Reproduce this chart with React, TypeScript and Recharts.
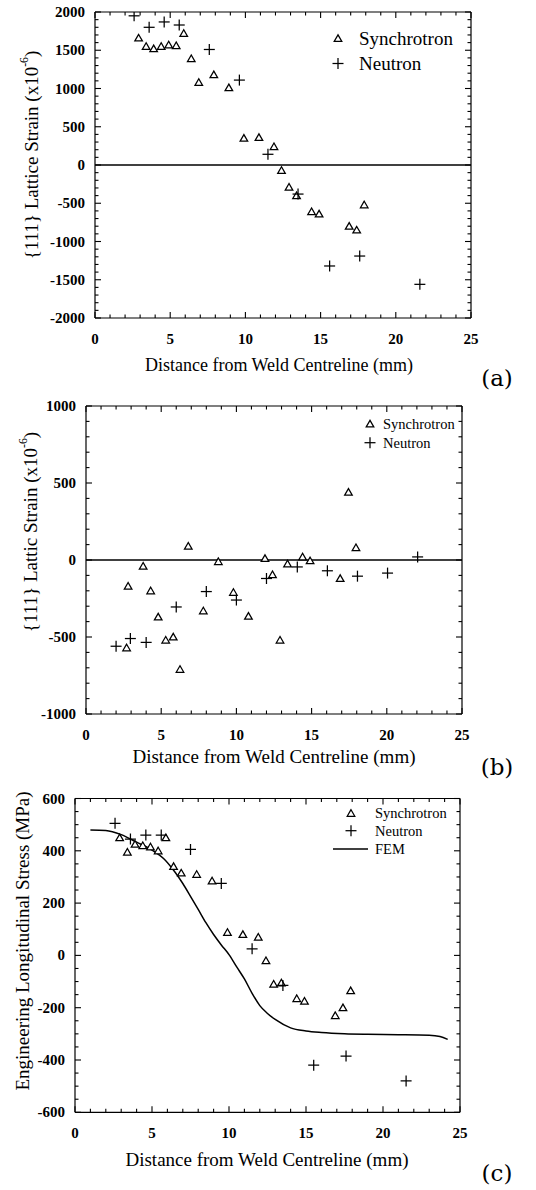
import React from 'react';
import { ComposedChart, Scatter, Line, XAxis, YAxis, ReferenceLine, Label, Legend } from 'recharts';

const SERIF = '"Liberation Serif", "Times New Roman", serif';
const LETTER_FONT = '"DejaVu Serif", "Liberation Serif", serif';

// ---------- Panel (a): {111} lattice strain, longitudinal ----------
const aSynX = [2.9, 3.4, 3.9, 4.4, 4.9, 5.4, 5.9, 6.4, 6.9, 7.9, 8.9, 9.9, 10.9, 11.9, 12.4, 12.9, 13.4, 14.4, 14.9, 16.9, 17.4, 17.9];
const aSynY = [1660, 1550, 1520, 1550, 1570, 1560, 1720, 1390, 1080, 1180, 1010, 350, 360, 240, -70, -290, -400, -610, -640, -800, -850, -520];
const aNeuX = [2.6, 3.6, 4.6, 5.6, 7.6, 9.6, 11.5, 13.5, 15.6, 17.6, 21.6];
const aNeuY = [1950, 1800, 1870, 1830, 1510, 1110, 140, -380, -1320, -1190, -1560];

// ---------- Panel (b): {111} lattic strain, transverse ----------
const bSynX = [2.7, 2.8, 3.8, 4.3, 4.8, 5.3, 5.8, 6.25, 6.8, 7.8, 8.8, 9.8, 10.8, 11.9, 12.4, 12.9, 13.4, 14.4, 14.9, 16.9, 17.45, 17.95];
const bSynY = [-570, -170, -40, -200, -370, -520, -500, -710, 90, -330, -10, -210, -365, 10, -95, -520, -25, 20, -5, -120, 440, 80];
const bNeuX = [2.0, 2.95, 4.0, 6.0, 8.0, 10.0, 12.0, 14.05, 16.05, 18.05, 20.05, 22.05];
const bNeuY = [-560, -510, -535, -305, -205, -260, -120, -45, -70, -105, -85, 20];

// ---------- Panel (c): engineering longitudinal stress ----------
const cSynX = [2.9, 3.4, 3.9, 4.4, 4.9, 5.4, 5.9, 6.4, 6.9, 7.9, 8.9, 9.9, 10.9, 11.9, 12.4, 12.9, 13.4, 14.4, 14.9, 16.9, 17.4, 17.9];
const cSynY = [450, 395, 425, 420, 415, 400, 450, 340, 315, 310, 285, 88, 80, 70, -20, -110, -105, -165, -175, -230, -200, -135];
const cNeuX = [2.6, 3.6, 4.6, 5.6, 7.5, 9.5, 11.5, 13.5, 15.5, 17.6, 21.5];
const cNeuY = [505, 445, 460, 460, 405, 275, 25, -115, -420, -385, -480];
const femX = [1.0, 2.0, 3.0, 4.0, 5.0, 5.8, 6.5, 7.0, 7.5, 8.0, 8.5, 9.0, 9.5, 10.0, 10.5, 11.0, 11.5, 12.0, 12.5, 13.0, 14.0, 15.0, 16.0, 17.5, 19.0, 21.0, 23.0, 23.7, 24.2];
const femY = [480, 478, 462, 433, 403, 368, 318, 275, 226, 176, 125, 80, 40, 3, -44, -90, -145, -192, -222, -245, -277, -289, -295, -300, -302, -303, -305, -310, -321];

// ---------- Axes ticks & labels ----------
const xMajorTicks = [0, 5, 10, 15, 20, 25];
const aYMajorTicks = [-2000, -1500, -1000, -500, 0, 500, 1000, 1500, 2000];
const bYMajorTicks = [-1000, -500, 0, 500, 1000];
const cYMajorTicks = [-600, -400, -200, 0, 200, 400, 600];
const seriesNames = ['Synchrotron', 'Neutron', 'FEM'];
const xTitle = 'Distance from Weld Centreline (mm)';

type Pt = { x: number; y: number };
const zip = (xs: number[], ys: number[]): Pt[] => xs.map((x, i) => ({ x, y: ys[i] }));
const steps = (lo: number, hi: number, step: number): number[] => {
  const out: number[] = [];
  for (let v = lo; v <= hi + 1e-9; v += step) out.push(Math.round(v * 1000) / 1000);
  return out;
};

const Tri = (p: any) => {
  const { cx, cy } = p;
  if (cx == null || cy == null) return <g />;
  const w = 7.6, h = 6.6;
  return (
    <path
      d={`M${cx},${cy - h * 0.55} L${cx - w / 2},${cy + h * 0.45} L${cx + w / 2},${cy + h * 0.45} Z`}
      fill="#fff"
      stroke="#000"
      strokeWidth={1.25}
    />
  );
};
const Plus = (p: any) => {
  const { cx, cy } = p;
  if (cx == null || cy == null) return <g />;
  const r = 5.5;
  return (
    <g stroke="#000" strokeWidth={1.25}>
      <line x1={cx - r} y1={cy} x2={cx + r} y2={cy} />
      <line x1={cx} y1={cy - r} x2={cx} y2={cy + r} />
    </g>
  );
};

type Side = 'bottom' | 'left' | 'top' | 'right';
const makeTick = (side: Side, majors: number[], label: boolean, fontSize: number, gap: number) => (props: any) => {
  const { x, y, payload } = props;
  const v = Number(payload.value);
  const isMajor = majors.some((m) => Math.abs(m - v) < 1e-6);
  const len = isMajor ? 6 : 3.5;
  let line = null;
  if (side === 'bottom') line = <line x1={x} y1={y} x2={x} y2={y - len} stroke="#000" strokeWidth={1.1} />;
  if (side === 'top') line = <line x1={x} y1={y} x2={x} y2={y + len} stroke="#000" strokeWidth={1.1} />;
  if (side === 'left') line = <line x1={x} y1={y} x2={x + len} y2={y} stroke="#000" strokeWidth={1.1} />;
  if (side === 'right') line = <line x1={x} y1={y} x2={x - len} y2={y} stroke="#000" strokeWidth={1.1} />;
  let text = null;
  if (label && isMajor) {
    if (side === 'bottom')
      text = (
        <text x={x} y={y + gap} textAnchor="middle" fontFamily={SERIF} fontSize={fontSize} fontWeight="bold" fill="#000">
          {String(v)}
        </text>
      );
    if (side === 'left')
      text = (
        <text x={x - gap} y={y} textAnchor="end" dominantBaseline="central" fontFamily={SERIF} fontSize={fontSize} fontWeight="bold" fill="#000">
          {String(v)}
        </text>
      );
  }
  return (
    <g>
      {line}
      {text}
    </g>
  );
};

type PanelProps = {
  top: number;
  height: number;
  margin: { top: number; right: number; bottom: number; left: number };
  yDomain: [number, number];
  yMinorStep: number;
  yMajors: number[];
  syn: Pt[];
  neu: Pt[];
  fem?: Pt[];
  zeroLine: boolean;
  tickFont: number;
  yTitle: { x: number; y: number; size: number; main: string; sup?: string; tail?: string };
  xTitleAt: { x: number; y: number; size: number };
  letter: { x: number; y: number; text: string };
  legend: { markX: number; textX: number; rows: number[]; size: number; lineFrom?: number; lineTo?: number };
};

const Panel = (P: PanelProps) => {
  const xTicks = steps(0, 25, 1);
  const yTicks = steps(P.yDomain[0], P.yDomain[1], P.yMinorStep);
  const axisLine = { stroke: '#000', strokeWidth: 1.2 };
  const yT = P.yTitle;
  const legendNames = P.fem ? seriesNames : seriesNames.slice(0, 2);
  // the mirrored top/right axes take 1px each; shrink the margins to keep the plot box in place
  const margin = { ...P.margin, top: P.margin.top - 1, right: P.margin.right - 1 };
  return (
    <div style={{ position: 'absolute', left: 0, top: P.top, width: 536, height: P.height }}>
      <ComposedChart width={536} height={P.height} margin={margin}>
        <XAxis
          type="number"
          dataKey="x"
          domain={[0, 25]}
          allowDataOverflow
          ticks={xTicks}
          interval={0}
          tickLine={false}
          tickSize={0}
          tickMargin={0}
          axisLine={axisLine}
          height={50}
          tick={makeTick('bottom', xMajorTicks, true, P.tickFont, 26)}
        >
          <Label
            content={() => (
              <g>
                <text x={P.xTitleAt.x} y={P.xTitleAt.y} textAnchor="middle" fontFamily={SERIF} fontSize={P.xTitleAt.size} fill="#000">
                  {xTitle}
                </text>
                <text x={P.letter.x} y={P.letter.y} textAnchor="middle" dominantBaseline="central" fontFamily={LETTER_FONT} fontSize={23} fill="#000">
                  {P.letter.text}
                </text>
              </g>
            )}
          />
        </XAxis>
        <XAxis
          xAxisId="top"
          orientation="top"
          type="number"
          dataKey="x"
          domain={[0, 25]}
          allowDataOverflow
          ticks={xTicks}
          interval={0}
          tickLine={false}
          tickSize={0}
          tickMargin={0}
          axisLine={axisLine}
          height={1}
          tick={makeTick('top', xMajorTicks, false, P.tickFont, 0)}
        />
        <YAxis
          type="number"
          dataKey="y"
          domain={P.yDomain}
          allowDataOverflow
          ticks={yTicks}
          interval={0}
          tickLine={false}
          tickSize={0}
          tickMargin={0}
          axisLine={axisLine}
          width={60}
          tick={makeTick('left', P.yMajors, true, P.tickFont, 10)}
        >
          <Label
            content={() => (
              <text
                x={yT.x}
                y={yT.y}
                transform={`rotate(-90 ${yT.x} ${yT.y})`}
                textAnchor="middle"
                dominantBaseline="central"
                fontFamily={SERIF}
                fontSize={yT.size}
                fill="#000"
              >
                {yT.main}
                {yT.sup ? (
                  <tspan dy={-7} fontSize={yT.size * 0.62}>
                    {yT.sup}
                  </tspan>
                ) : null}
                {yT.tail ? <tspan dy={yT.sup ? 7 : 0}>{yT.tail}</tspan> : null}
              </text>
            )}
          />
        </YAxis>
        <YAxis
          yAxisId="right"
          orientation="right"
          type="number"
          dataKey="y"
          domain={P.yDomain}
          allowDataOverflow
          ticks={yTicks}
          interval={0}
          tickLine={false}
          tickSize={0}
          tickMargin={0}
          axisLine={axisLine}
          width={1}
          tick={makeTick('right', P.yMajors, false, P.tickFont, 0)}
        />
        {P.zeroLine ? <ReferenceLine y={0} stroke="#000" strokeWidth={1.3} ifOverflow="hidden" /> : null}
        {P.fem ? (
          <Line
            data={P.fem}
            dataKey="y"
            name={seriesNames[2]}
            type="monotone"
            dot={false}
            stroke="#000"
            strokeWidth={1.5}
            isAnimationActive={false}
          />
        ) : null}
        <Scatter name={seriesNames[0]} data={P.syn} shape={Tri} isAnimationActive={false} />
        <Scatter xAxisId="top" yAxisId="right" name={seriesNames[1]} data={P.neu} shape={Plus} isAnimationActive={false} />
        <Legend
          layout="vertical"
          align="center"
          verticalAlign="middle"
          wrapperStyle={{ left: 0, top: 0, width: 536, height: 0 }}
          content={() => (
            <svg width={536} height={90} style={{ position: 'absolute', left: 0, top: 0, overflow: 'visible' }}>
              {legendNames.map((nm, i) => {
                const cy = P.legend.rows[i];
                const mx = P.legend.markX;
                let icon = null;
                if (i === 0) icon = <Tri cx={mx} cy={cy} />;
                else if (i === 1) icon = <Plus cx={mx} cy={cy} />;
                else icon = <line x1={P.legend.lineFrom} y1={cy} x2={P.legend.lineTo} y2={cy} stroke="#000" strokeWidth={1.5} />;
                return (
                  <g key={nm}>
                    {icon}
                    <text x={P.legend.textX} y={cy} dominantBaseline="central" fontFamily={SERIF} fontSize={P.legend.size} fill="#000">
                      {nm}
                    </text>
                  </g>
                );
              })}
            </svg>
          )}
        />
      </ComposedChart>
    </div>
  );
};

export default function App() {
  return (
    <div style={{ position: 'absolute', left: 0, top: 0, width: 536, height: 1190, background: '#fff' }}>
      <Panel
        top={0}
        height={390}
        margin={{ top: 12, right: 65, bottom: 22, left: 35 }}
        yDomain={[-2000, 2000]}
        yMinorStep={100}
        yMajors={aYMajorTicks}
        syn={zip(aSynX, aSynY)}
        neu={zip(aNeuX, aNeuY)}
        zeroLine
        tickFont={15}
        yTitle={{ x: 31, y: 155, size: 19, main: '{111} Lattice Strain (x10', sup: '-6', tail: ')' }}
        xTitleAt={{ x: 279, y: 371, size: 18 }}
        letter={{ x: 497, y: 378, text: '(a)' }}
        legend={{ markX: 338, textX: 359, rows: [38.5, 63.5], size: 19 }}
      />
      <Panel
        top={390}
        height={395}
        margin={{ top: 16, right: 74, bottom: 21, left: 26 }}
        yDomain={[-1000, 1000]}
        yMinorStep={100}
        yMajors={bYMajorTicks}
        syn={zip(bSynX, bSynY)}
        neu={zip(bNeuX, bNeuY)}
        zeroLine
        tickFont={15}
        yTitle={{ x: 30, y: 142, size: 19, main: '{111} Lattic Strain (x10', sup: '-6', tail: ')' }}
        xTitleAt={{ x: 274, y: 373, size: 19 }}
        letter={{ x: 497, y: 377, text: '(b)' }}
        legend={{ markX: 370, textX: 383, rows: [34, 52.7], size: 14.5 }}
      />
      <Panel
        top={785}
        height={405}
        margin={{ top: 13.5, right: 76, bottom: 27.7, left: 15 }}
        yDomain={[-600, 600]}
        yMinorStep={50}
        yMajors={cYMajorTicks}
        syn={zip(cSynX, cSynY)}
        neu={zip(cNeuX, cNeuY)}
        fem={zip(femX, femY)}
        zeroLine={false}
        tickFont={15}
        yTitle={{ x: 22, y: 156, size: 19, main: 'Engineering Longitudinal Stress (MPa)' }}
        xTitleAt={{ x: 267, y: 381, size: 19 }}
        letter={{ x: 497, y: 388, text: '(c)' }}
        legend={{ markX: 351, textX: 375, rows: [28.3, 45.7, 64], size: 14.5, lineFrom: 333, lineTo: 368 }}
      />
    </div>
  );
}
